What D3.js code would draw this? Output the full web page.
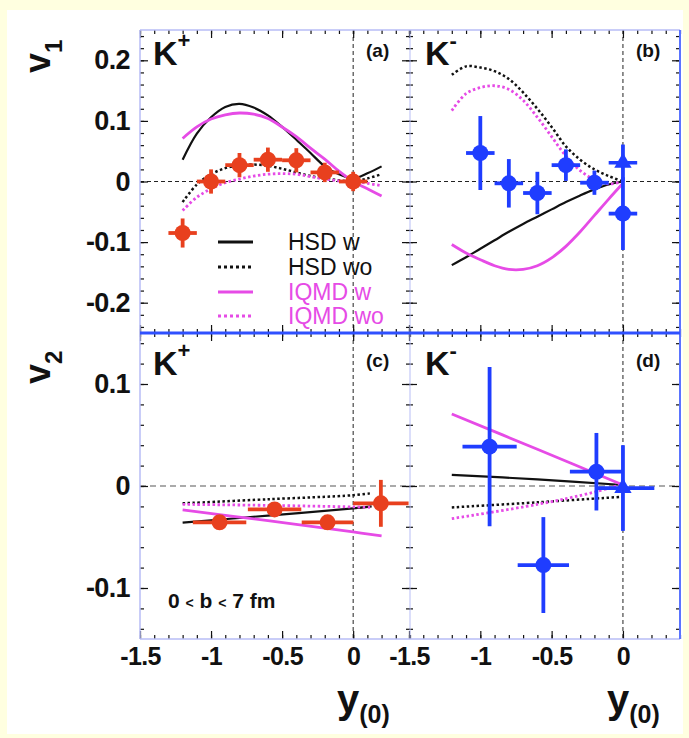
<!DOCTYPE html>
<html><head><meta charset="utf-8">
<script src="https://cdn.jsdelivr.net/npm/d3@7"></script>
<style>
html,body{margin:0;padding:0;background:#ffffe0;}
svg{display:block;}
text{font-family:"Liberation Sans",Arial,Helvetica,sans-serif;}
</style></head><body>
<svg id="c" width="689" height="738"></svg>
<script>
// ---------------- data ----------------
const xTickValues = [-1.5, -1, -0.5, 0];
const xTickLabels = ["-1.5", "-1", "-0.5", "0"];
const v1TickValues = [-0.2, -0.1, 0, 0.1, 0.2];
const v1TickLabels = ["-0.2", "-0.1", "0", "0.1", "0.2"];
const v2TickValues = [-0.1, 0, 0.1];
const v2TickLabels = ["-0.1", "0", "0.1"];
const legendLabels = ["HSD w", "HSD wo", "IQMD w", "IQMD wo"];
const panelTags = ["(a)", "(b)", "(c)", "(d)"];

// (a) K+ v1 : data
const aX = [-1.2, -1.0, -0.8, -0.6, -0.4, -0.2, 0];
const aY = [-0.085, 0.0, 0.027, 0.036, 0.035, 0.015, 0.0];
const aYErr = [0.024, 0.02, 0.02, 0.02, 0.02, 0.016, 0.016];
const aXErr = [0.1, 0.1, 0.1, 0.1, 0.1, 0.1, 0.1];
// (a) models
const aCurveX = [-1.2, -1.1, -1.0, -0.9, -0.8, -0.7, -0.6, -0.5, -0.4, -0.3, -0.2, -0.1, 0, 0.1, 0.2];
const aHSDw   = [0.036, 0.079, 0.106, 0.123, 0.128, 0.122, 0.109, 0.09, 0.069, 0.047, 0.025, 0.012, 0.005, 0.0135, 0.025];
const aHSDwo  = [-0.034, -0.005, 0.012, 0.022, 0.027, 0.028, 0.026, 0.021, 0.015, 0.009, 0.005, 0.002, 0.0, 0.005, 0.012];
const aIQMDw  = [0.071, 0.09, 0.103, 0.11, 0.113, 0.111, 0.104, 0.09, 0.074, 0.055, 0.037, 0.017, 0.0, -0.012, -0.024];
const aIQMDwo = [-0.048, -0.026, -0.012, -0.002, 0.004, 0.009, 0.012, 0.013, 0.012, 0.008, 0.004, 0.001, 0.0, -0.003, -0.007];

// (b) K- v1 : data
const bX = [-1.0, -0.8, -0.6, -0.4, -0.2, 0];
const bY = [0.047, -0.003, -0.019, 0.027, -0.002, -0.053];
const bYErr = [0.061, 0.04, 0.035, 0.026, 0.02, 0.06];
const bXErr = [0.1, 0.1, 0.1, 0.1, 0.1, 0.1];
const bTriX = [0];
const bTriY = [0.031];
const bTriYErr = [0.03];
const bTriXErr = [0.1];
// (b) models
const bCurveX = [-1.2, -1.1, -1.0, -0.9, -0.8, -0.7, -0.6, -0.5, -0.4, -0.3, -0.2, -0.1, 0];
const bHSDw   = [-0.138, -0.125, -0.111, -0.097, -0.083, -0.07, -0.058, -0.046, -0.034, -0.023, -0.013, -0.005, 0];
const bHSDwo  = [0.176, 0.19, 0.188, 0.182, 0.169, 0.147, 0.12, 0.09, 0.058, 0.036, 0.02, 0.009, 0];
const bIQMDw  = [-0.104, -0.118, -0.129, -0.139, -0.145, -0.145, -0.139, -0.126, -0.107, -0.083, -0.056, -0.029, -0.003];
const bIQMDwo = [0.117, 0.145, 0.155, 0.158, 0.152, 0.134, 0.106, 0.074, 0.042, 0.018, 0.003, -0.004, 0];

// (c) K+ v2 : data
const cX = [-0.94, -0.553, -0.18, 0.195];
const cY = [-0.0356, -0.023, -0.0356, -0.017];
const cYErr = [0.006, 0.006, 0.006, 0.023];
const cXErr = [0.188, 0.188, 0.182, 0.195];
// (c) models
const cCurveX  = [-1.2, -0.6, 0, 0.13];
const cHSDw    = [-0.036, -0.029, -0.022, -0.020];
const cHSDwo   = [-0.017, -0.013, -0.009, -0.007];
const cIQMDwX  = [-1.2, -0.6, 0, 0.2];
const cIQMDw   = [-0.0235, -0.034, -0.045, -0.049];
const cIQMDwo  = [-0.018, -0.019, -0.0205, -0.021];

// (d) K- v2 : data
const dX = [-0.935, -0.558, -0.186];
const dY = [0.0386, -0.0775, 0.014];
const dYErr = [0.078, 0.047, 0.038];
const dXErr = [0.19, 0.18, 0.186];
const dTriX = [0];
const dTriY = [-0.002];
const dTriYErr = [0.042];
const dTriXErrLo = [0.175];
const dTriXErrHi = [0.22];
// (d) models
const dCurveX  = [-1.2, -0.6, 0];
const dHSDw    = [0.011, 0.0065, 0.001];
const dHSDwo   = [-0.021, -0.016, -0.0105];
const dIQMDw   = [0.0706, 0.036, 0.001];
const dIQMDwoX = [-1.2, -0.6, -0.2, 0];
const dIQMDwo  = [-0.032, -0.018, -0.006, 0.002];

// ---------------- drawing ----------------
const RED = "#e8401e", BLUE = "#1f3dff", MAG = "#e64be6";
const svg = d3.select("#c");
svg.append("rect").attr("x", 7).attr("y", 10).attr("width", 676).attr("height", 724).attr("fill", "#fff");

const L = {x0: 140, x1: 410}, R = {x0: 409, x1: 680};
const T = {y0: 30, y1: 333}, B = {y0: 333, y1: 639};
const xL = d3.scaleLinear().domain([-1.5, 0.4]).range([L.x0, L.x1]);
const xR = d3.scaleLinear().domain([-1.5, 0.4]).range([R.x0, R.x1]);
const yT = d3.scaleLinear().domain([-0.25, 0.25]).range([T.y1, T.y0]);
const yB = d3.scaleLinear().domain([-0.15, 0.15]).range([B.y1, B.y0]);

const xMinor = d3.range(-15, 5).map(i => i / 10);
const yMinorT = d3.range(-12, 13).map(i => i / 50);
const yMinorB = d3.range(-7, 8).map(i => i / 50);

function ticks(g, axisFn, scale, values, size, tr) {
  g.append("g").attr("transform", tr)
    .call(axisFn(scale).tickValues(values).tickSizeInner(-size).tickSizeOuter(0).tickFormat(""))
    .call(s => { s.select(".domain").remove(); s.selectAll("line").attr("stroke", "#111").attr("stroke-width", 1.2); });
}

function panel(xs, ys, yMajor, yMinor, zeroStyle) {
  const g = svg.append("g");
  const [x0, x1] = xs.range(), [y1, y0] = ys.range();
  g.append("line").attr("x1", x0).attr("x2", x1).attr("y1", ys(0)).attr("y2", ys(0))
    .attr("stroke", zeroStyle.c).attr("stroke-width", zeroStyle.w).attr("stroke-dasharray", zeroStyle.d);
  g.append("line").attr("x1", xs(0)).attr("x2", xs(0)).attr("y1", y0).attr("y2", y1)
    .attr("stroke", "#222").attr("stroke-width", 1).attr("stroke-dasharray", "4,3");
  ticks(g, d3.axisBottom, xs, xMinor, 4, `translate(0,${y1})`);
  ticks(g, d3.axisBottom, xs, xTickValues, 8, `translate(0,${y1})`);
  ticks(g, d3.axisTop, xs, xMinor, 4, `translate(0,${y0})`);
  ticks(g, d3.axisTop, xs, xTickValues, 8, `translate(0,${y0})`);
  ticks(g, d3.axisLeft, ys, yMinor, 4, `translate(${x0},0)`);
  ticks(g, d3.axisLeft, ys, yMajor, 8, `translate(${x0},0)`);
  ticks(g, d3.axisRight, ys, yMinor, 4, `translate(${x1},0)`);
  ticks(g, d3.axisRight, ys, yMajor, 8, `translate(${x1},0)`);
  return g;
}

const top0 = {c: "#222", w: 1, d: "4,3"};
const bot0 = {c: "#aaa", w: 1.8, d: "6,4"};
const gA = panel(xL, yT, v1TickValues, yMinorT, top0);
const gB = panel(xR, yT, v1TickValues, yMinorT, top0);
const gC = panel(xL, yB, v2TickValues, yMinorB, bot0);
const gD = panel(xR, yB, v2TickValues, yMinorB, bot0);

function curve(g, xs, ys, X, Y, color, dotted, w) {
  const line = d3.line().x(d => xs(d[0])).y(d => ys(d[1])).curve(d3.curveCatmullRom.alpha(0.5));
  g.append("path").attr("d", line(X.map((x, i) => [x, Y[i]])))
    .attr("fill", "none").attr("stroke", color).attr("stroke-width", w)
    .attr("stroke-dasharray", dotted ? "2.5,2.5" : null);
}
function models(g, xs, ys, set) {
  curve(g, xs, ys, set[0][0], set[0][1], "#111", false, 2.2);
  curve(g, xs, ys, set[1][0], set[1][1], "#111", true, 2.5);
  curve(g, xs, ys, set[2][0], set[2][1], MAG, false, 2.8);
  curve(g, xs, ys, set[3][0], set[3][1], MAG, true, 2.8);
}
models(gA, xL, yT, [[aCurveX, aHSDw], [aCurveX, aHSDwo], [aCurveX, aIQMDw], [aCurveX, aIQMDwo]]);
models(gB, xR, yT, [[bCurveX, bHSDw], [bCurveX, bHSDwo], [bCurveX, bIQMDw], [bCurveX, bIQMDwo]]);
models(gC, xL, yB, [[cCurveX, cHSDw], [cCurveX, cHSDwo], [cIQMDwX, cIQMDw], [cCurveX, cIQMDwo]]);
models(gD, xR, yB, [[dCurveX, dHSDw], [dCurveX, dHSDwo], [dCurveX, dIQMDw], [dIQMDwoX, dIQMDwo]]);

function points(g, xs, ys, X, Y, yErr, xLo, xHi, color, shape) {
  const w = 3.8;
  X.forEach((x, i) => {
    g.append("line").attr("x1", xs(x)).attr("x2", xs(x)).attr("y1", ys(Y[i] - yErr[i])).attr("y2", ys(Y[i] + yErr[i]))
      .attr("stroke", color).attr("stroke-width", w);
    g.append("line").attr("x1", xs(x - xLo[i])).attr("x2", xs(x + xHi[i])).attr("y1", ys(Y[i])).attr("y2", ys(Y[i]))
      .attr("stroke", color).attr("stroke-width", w);
    if (shape === "tri") {
      g.append("path").attr("d", d3.symbol(d3.symbolTriangle, 130)())
        .attr("transform", `translate(${xs(x)},${ys(Y[i])})`).attr("fill", color);
    } else {
      g.append("circle").attr("cx", xs(x)).attr("cy", ys(Y[i])).attr("r", 8).attr("fill", color);
    }
  });
}
points(gA, xL, yT, aX, aY, aYErr, aXErr, aXErr, RED, "c");
points(gB, xR, yT, bX, bY, bYErr, bXErr, bXErr, BLUE, "c");
gB.append("line").attr("x1", xR(bTriX[0] - bTriXErr[0])).attr("x2", xR(bTriX[0] + bTriXErr[0]))
  .attr("y1", yT(bTriY[0])).attr("y2", yT(bTriY[0])).attr("stroke", BLUE).attr("stroke-width", 3.5).attr("stroke-dasharray", "10,8.5");
points(gB, xR, yT, bTriX, bTriY, bTriYErr, [0], [0], BLUE, "tri");
points(gC, xL, yB, cX, cY, cYErr, cXErr, cXErr, RED, "c");
points(gD, xR, yB, dX, dY, dYErr, dXErr, dXErr, BLUE, "c");
points(gD, xR, yB, dTriX, dTriY, dTriYErr, dTriXErrLo, dTriXErrHi, BLUE, "tri");

// frames
const lav = "#b7bdf6";
svg.append("line").attr("x1", L.x0).attr("x2", R.x1).attr("y1", T.y0).attr("y2", T.y0).attr("stroke", lav).attr("stroke-width", 1.5);
svg.append("line").attr("x1", L.x0).attr("x2", R.x1).attr("y1", B.y1).attr("y2", B.y1).attr("stroke", lav).attr("stroke-width", 1.5);
svg.append("line").attr("x1", L.x0).attr("x2", L.x0).attr("y1", T.y0).attr("y2", B.y1).attr("stroke", lav).attr("stroke-width", 1.5);
svg.append("line").attr("x1", L.x1).attr("x2", L.x1).attr("y1", T.y0).attr("y2", B.y1).attr("stroke", lav).attr("stroke-width", 1);
svg.append("line").attr("x1", R.x1).attr("x2", R.x1).attr("y1", T.y0).attr("y2", B.y1).attr("stroke", "#5a74ff").attr("stroke-width", 2);
svg.append("line").attr("x1", L.x0).attr("x2", R.x1).attr("y1", T.y1).attr("y2", T.y1).attr("stroke", "#2f50ff").attr("stroke-width", 3);

// tick labels
function labelAxis(axisFn, scale, values, labels, tr, pad, size) {
  svg.append("g").attr("transform", tr)
    .call(axisFn(scale).tickValues(values).tickSize(0).tickPadding(pad).tickFormat((d, i) => labels[i]))
    .call(s => {
      s.select(".domain").remove();
      s.selectAll("text").attr("font-family", "Liberation Sans, Arial, sans-serif")
        .attr("font-size", size).attr("font-weight", "bold").attr("fill", "#111").attr("letter-spacing", -0.6);
    });
}
labelAxis(d3.axisLeft, yT, v1TickValues, v1TickLabels, `translate(${L.x0},0)`, 10, 27);
labelAxis(d3.axisLeft, yB, v2TickValues, v2TickLabels, `translate(${L.x0},0)`, 10, 27);
labelAxis(d3.axisBottom, xL, xTickValues, xTickLabels, `translate(0,${B.y1})`, 8, 25);
labelAxis(d3.axisBottom, xR, xTickValues, xTickLabels, `translate(0,${B.y1})`, 8, 25);

// axis titles
function vTitle(x, y, sub) {
  const t = svg.append("text").attr("transform", `translate(${x},${y}) rotate(-90)`)
    .attr("font-size", 36).attr("font-weight", "bold").attr("fill", "#111");
  t.append("tspan").text("v");
  t.append("tspan").attr("font-size", 24).attr("dy", 12).text(sub);
}
vTitle(50, 73, "1");
vTitle(50, 384, "2");
function yTitle(x, y) {
  const t = svg.append("text").attr("x", x).attr("y", y).attr("font-size", 40).attr("font-weight", "bold").attr("fill", "#111");
  t.append("tspan").text("y");
  t.append("tspan").attr("font-size", 25).attr("dy", 10).text("(0)");
}
yTitle(337, 713);
yTitle(607, 713);

// panel labels
function kLabel(x, y, sup) {
  const t = svg.append("text").attr("x", x).attr("y", y).attr("font-size", 34).attr("font-weight", "bold").attr("fill", "#111");
  t.append("tspan").text("K");
  t.append("tspan").attr("font-size", 22).attr("dy", -17).text(sup);
}
kLabel(153, 65, "+");
kLabel(425, 65, "-");
kLabel(153, 375, "+");
kLabel(425, 375, "-");
[[366, 57], [636, 57], [366, 367], [636, 367]].forEach((p, i) => {
  svg.append("text").attr("x", p[0]).attr("y", p[1]).attr("font-size", 19).attr("font-weight", "bold")
    .attr("fill", "#111").text(panelTags[i]);
});

// legend in (a)
const legStyles = [["#111", false], ["#111", true], [MAG, false], [MAG, true]];
const legY = [242, 267, 292, 316];
legendLabels.forEach((lab, i) => {
  gA.append("line").attr("x1", 218).attr("x2", 253).attr("y1", legY[i]).attr("y2", legY[i])
    .attr("stroke", legStyles[i][0]).attr("stroke-width", 3).attr("stroke-dasharray", legStyles[i][1] ? "3,3" : null);
  gA.append("text").attr("x", 288).attr("y", legY[i] + 8).attr("font-size", 23)
    .attr("fill", legStyles[i][0] === "#111" ? "#111" : MAG).text(lab);
});

// centrality text
const ct = svg.append("text").attr("x", 168).attr("y", 608).attr("font-size", 21).attr("font-weight", "bold").attr("fill", "#111");
ct.append("tspan").text("0 ");
ct.append("tspan").attr("font-size", 14).text("<");
ct.append("tspan").text(" b ");
ct.append("tspan").attr("font-size", 14).text("<");
ct.append("tspan").text(" 7 fm");
</script>
</body></html>
